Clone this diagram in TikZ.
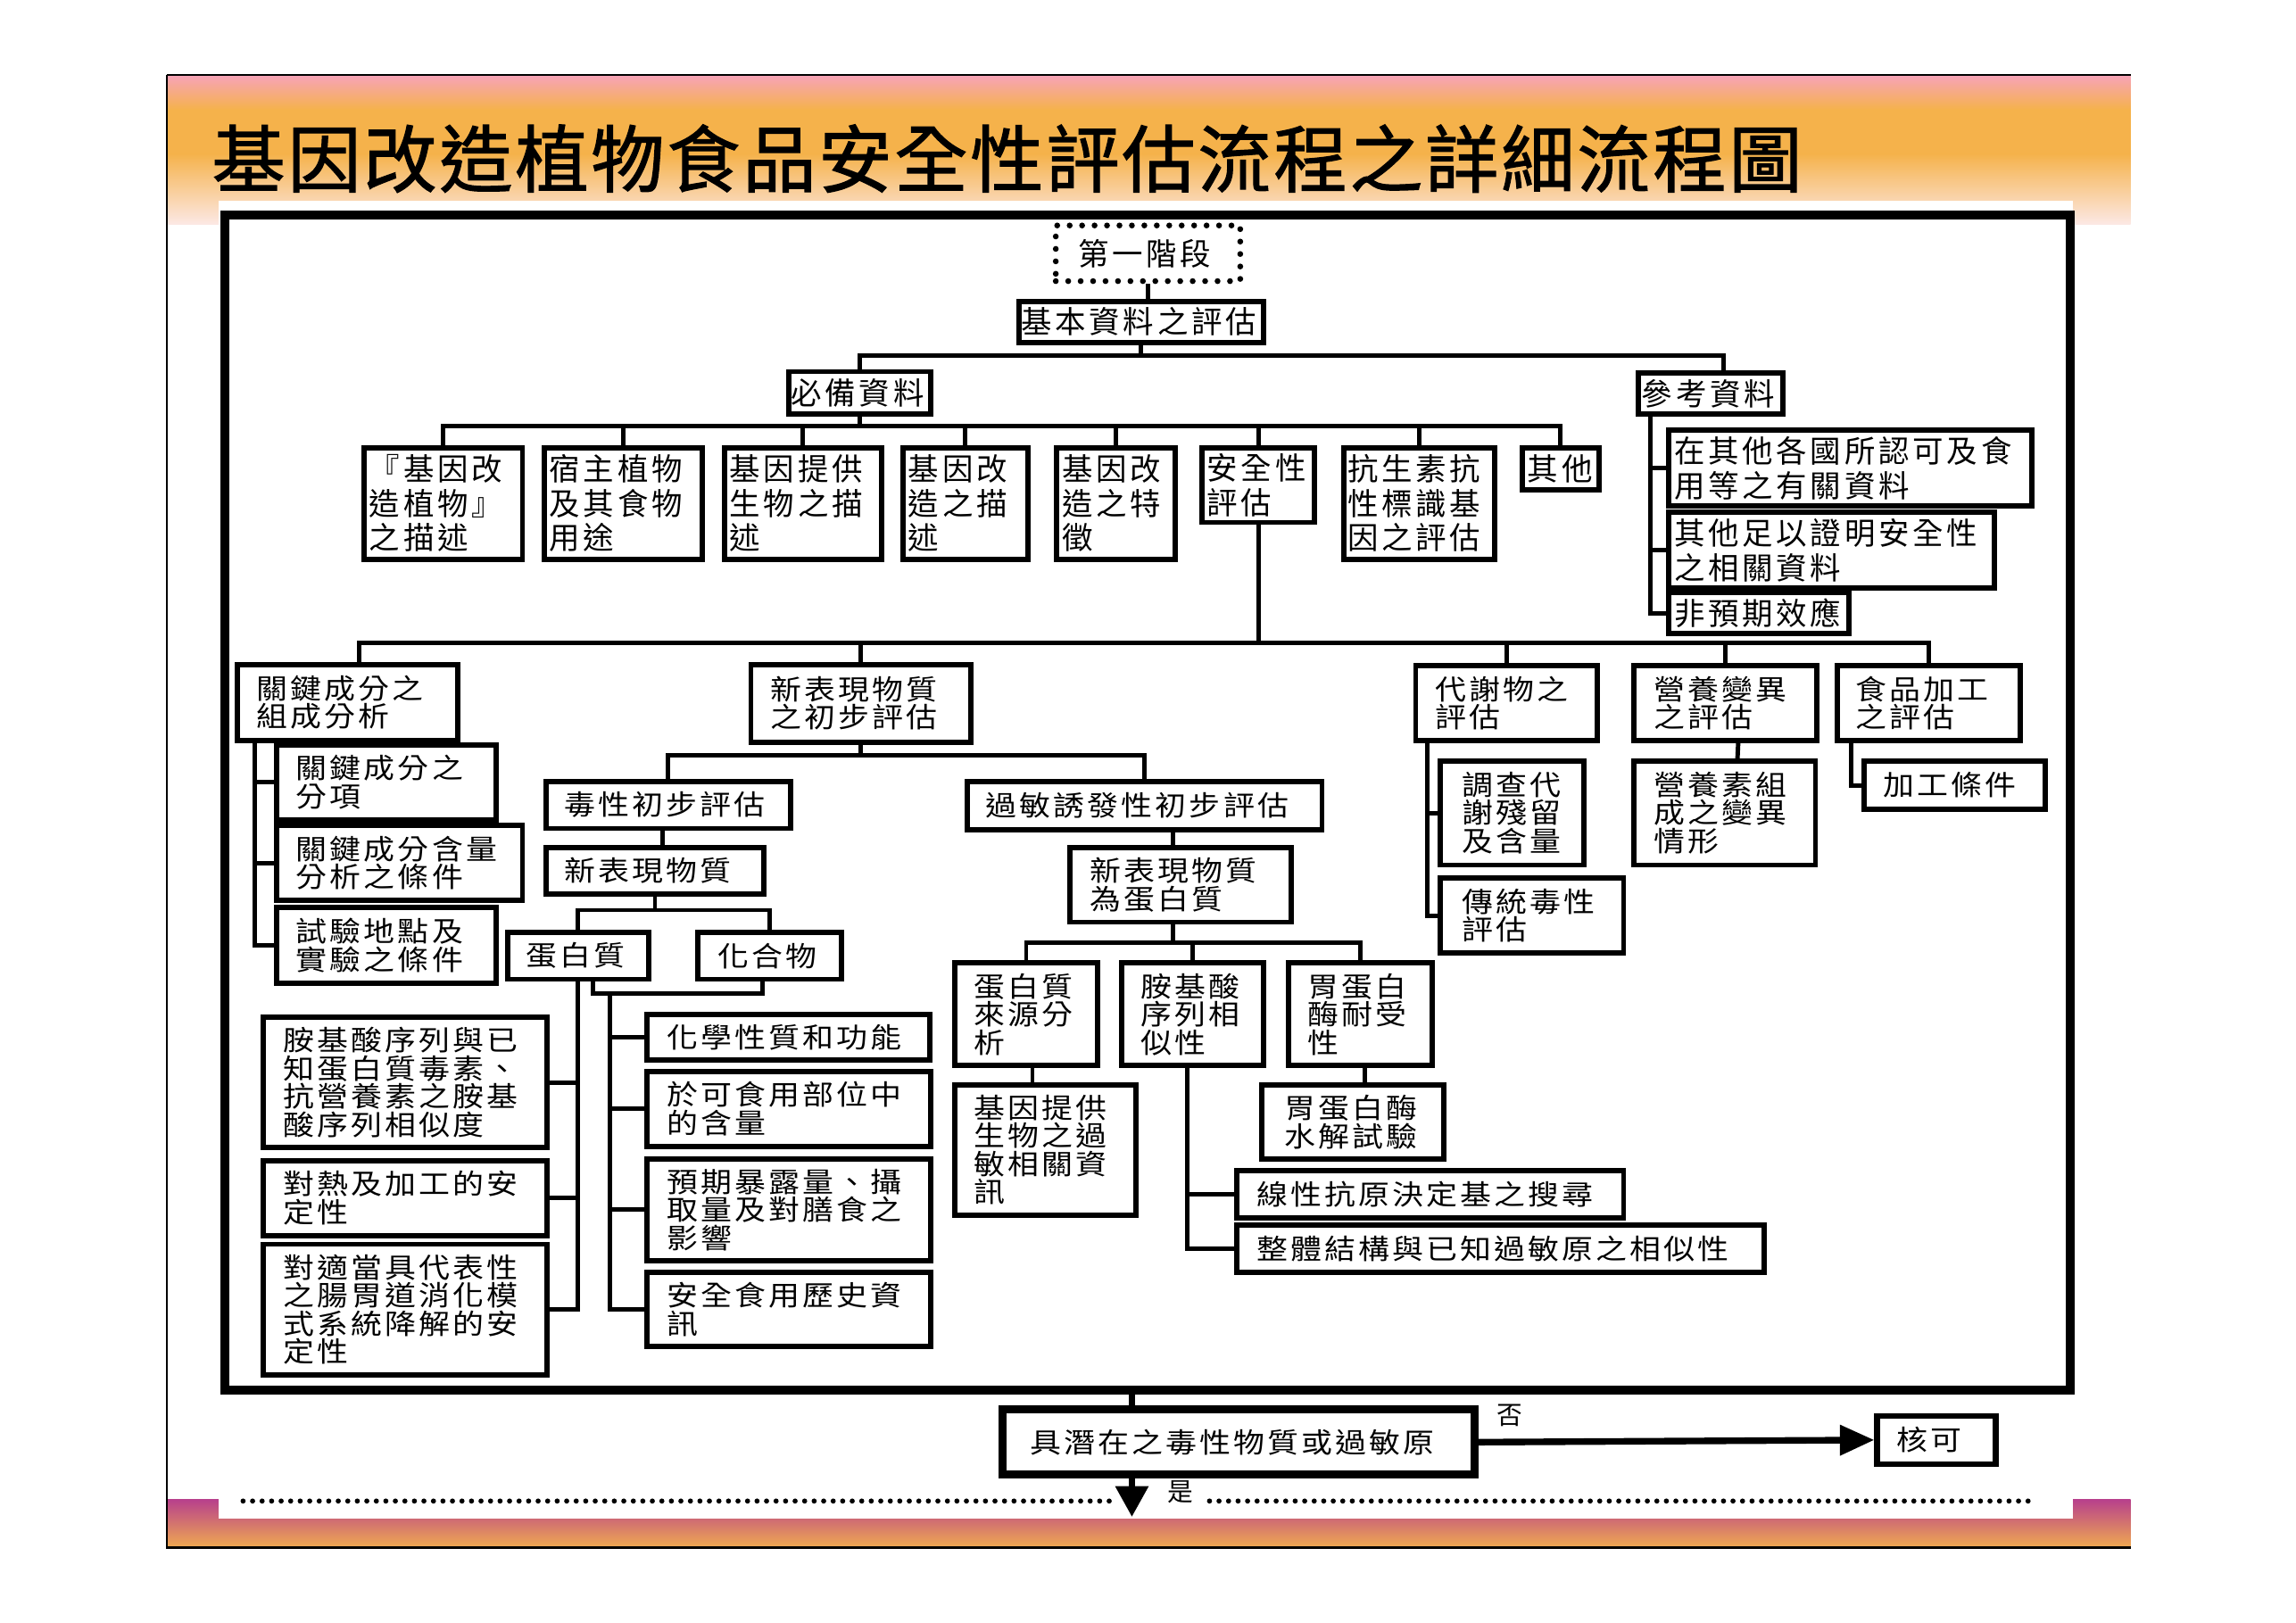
\documentclass[tikz,border=0pt]{standalone}
\usepackage{fontspec}
\usetikzlibrary{arrows.meta}
\newfontfamily\cjkU[LetterSpace=11]{Noto Sans CJK TC}
\newfontfamily\cjkL[LetterSpace=10,FakeStretch=1.12]{Noto Sans CJK TC}
\newfontfamily\cjkT[LetterSpace=3.6,FakeBold=1.5]{Noto Sans CJK TC}
\newlength\pu \setlength\pu{0.8pt}
\newcommand\fU{\cjkU\fontsize{16.8pt}{18.8pt}\selectfont}
\newcommand\fL{\cjkL\fontsize{15.2pt}{15.4pt}\selectfont}
\newcommand\fS{\cjkU\fontsize{14pt}{14.4pt}\selectfont}
\newcommand\bx[8]{%
  \node[#1, minimum width={(#5-#3)*\pu}, minimum height={(#6-#4)*\pu}, anchor=north west] (#2) at (#3,#4) {};
  \node[#1txt, anchor=west] (#2-t) at ([xshift={#7*\pu}]#2.west) {#8};
}
\definecolor{hpink}{RGB}{247,163,185}
\definecolor{horange}{RGB}{245,178,75}
\definecolor{hlight}{RGB}{252,232,228}
\definecolor{bpurple}{RGB}{183,64,140}
\definecolor{borange}{RGB}{240,170,80}
\begin{document}
\begin{tikzpicture}[x=0.8pt,y=-0.8pt,
  ub/.style={draw=black, line width=2.9pt, fill=white, inner sep=0pt},
  ubtxt/.style={inner sep=0pt, align=left, font=\fU},
  lb/.style={draw=black, line width=2.9pt, fill=white, inner sep=0pt},
  lbtxt/.style={inner sep=0pt, align=left, font=\fL},
  db/.style={draw=black, line width=3.2pt, dash pattern=on 0pt off 6.8pt, line cap=round, fill=white, inner sep=0pt},
  dbtxt/.style={inner sep=0pt, align=left, font=\fU},
  kb/.style={draw=black, line width=4.4pt, fill=white, inner sep=0pt},
  kbtxt/.style={inner sep=0pt, align=left, font=\fL},
  ob/.style={draw=black, line width=3.2pt, fill=white, inner sep=0pt},
  obtxt/.style={inner sep=0pt, align=left, font=\fL},
  conn/.style={line width=2.4pt},
  arr/.style={line width=3.6pt, -{Triangle[length=18.8pt,width=16pt]}},
  arrd/.style={line width=3.6pt, -{Triangle[length=16.8pt,width=17.4pt]}},
  dotline/.style={line width=2.8pt, dash pattern=on 0pt off 5.2pt, line cap=round},
  lab/.style={inner sep=0pt, font=\fS}]
% page and background
\fill[white] (0,0) rectangle (1568,1108.5);
\useasboundingbox (0,0) rectangle (1568,1108.5);
\shade[top color=hpink, bottom color=horange] (114,51.2) rectangle (1455,75);
\fill[horange] (114,74.8) rectangle (1455,105.2);
\shade[top color=horange, bottom color=hlight] (114,105) rectangle (1455,153);
\shade[top color=bpurple, bottom color=borange] (114,1024) rectangle (1455,1057);
\fill[white] (149,137) rectangle (1415.5,1037);
\draw[line width=1pt] (114,51.2) -- (1455,51.2);
\draw[line width=1pt] (114,51.2) -- (114,1057) -- (1455,1057);
% title
\node[anchor=west, inner sep=0pt, font=\cjkT\fontsize{40pt}{40pt}\selectfont] (title) at (144.5,108.3) {基因改造植物食品安全性評估流程之詳細流程圖};
% frame
\node[draw=black, line width=4.8pt, inner sep=0pt, minimum width={1260.2*\pu}, minimum height={802.7*\pu}, anchor=north west] (frame) at (150.5,143.7) {};
% ---------- boxes: upper part
\bx{db}{n1}{719}{152}{845}{190}{17}{第一階段}
\bx{ub}{n2}{694}{204}{861}{232}{3}{基本資料之評估}
\bx{ub}{n3}{537}{252}{634}{281}{3}{必備資料}
\bx{ub}{n4}{1117}{253}{1216}{281}{4}{參考資料}
\bx{ub}{a}{247}{304}{355}{380}{5}{『基因改\\造植物』\\之描述}
\bx{ub}{b}{370}{304}{478}{380}{5}{宿主植物\\及其食物\\用途}
\bx{ub}{c}{493}{304}{600}{380}{5}{基因提供\\生物之描\\述}
\bx{ub}{d}{615}{304}{700}{380}{5}{基因改\\造之描\\述}
\bx{ub}{e}{720}{304}{801}{380}{5}{基因改\\造之特\\徵}
\bx{ub}{f}{819}{304}{896}{355}{5}{安全性\\評估}
\bx{ub}{g}{916}{304}{1019}{380}{4}{抗生素抗\\性標識基\\因之評估}
\bx{ub}{h}{1038}{304}{1090}{333}{5}{其他}
\bx{ub}{R1}{1138}{292}{1386}{344}{5}{在其他各國所認可及食\\用等之有關資料}
\bx{ub}{R2}{1138}{348}{1360}{400}{5}{其他足以證明安全性\\之相關資料}
\bx{ub}{R3}{1138}{403}{1261}{431}{5}{非預期效應}
% ---------- second level
\bx{lb}{K}{160}{452}{311}{504}{15}{關鍵成分之\\組成分析}
\bx{lb}{N}{511}{452}{661}{505}{15}{新表現物質\\之初步評估}
\bx{lb}{M}{965}{453}{1089}{504}{15}{代謝物之\\評估}
\bx{lb}{V}{1114}{453}{1239}{504}{15}{營養變異\\之評估}
\bx{lb}{P}{1253}{453}{1378}{504}{14}{食品加工\\之評估}
\bx{lb}{K1}{187}{507}{337}{558}{15}{關鍵成分之\\分項}
\bx{lb}{K2}{187}{562}{355}{613}{15}{關鍵成分含量\\分析之條件}
\bx{lb}{K3}{187}{618}{337}{670}{15}{試驗地點及\\實驗之條件}
\bx{lb}{T}{371}{532}{538}{564}{14}{毒性初步評估}
\bx{lb}{A}{659}{532}{901}{565}{14}{過敏誘發性初步評估}
\bx{lb}{T2}{371}{577}{520}{609}{14}{新表現物質}
\bx{lb}{A2}{729}{577}{880}{628}{15}{新表現物質\\為蛋白質}
\bx{lb}{PR}{345}{635}{441}{667}{14}{蛋白質}
\bx{lb}{CH}{475}{635}{573}{667}{15}{化合物}
\bx{lb}{L1}{178}{693}{372}{782}{15}{胺基酸序列與已\\知蛋白質毒素、\\抗營養素之胺基\\酸序列相似度}
\bx{lb}{L2}{178}{791}{372}{842}{15}{對熱及加工的安\\定性}
\bx{lb}{L3}{178}{848}{372}{937}{15}{對適當具代表性\\之腸胃道消化模\\式系統降解的安\\定性}
\bx{lb}{Q1}{440}{691}{633}{722}{15}{化學性質和功能}
\bx{lb}{Q2}{440}{730}{634}{781}{15}{於可食用部位中\\的含量}
\bx{lb}{Q3}{440}{790}{634}{859}{15}{預期暴露量、攝\\取量及對膳食之\\影響}
\bx{lb}{Q4}{440}{867}{634}{918}{15}{安全食用歷史資\\訊}
\bx{lb}{S1}{650}{656}{748}{726}{15}{蛋白質\\來源分\\析}
\bx{lb}{S2}{764}{656}{861}{726}{15}{胺基酸\\序列相\\似性}
\bx{lb}{S3}{878}{656}{976}{726}{15}{胃蛋白\\酶耐受\\性}
\bx{lb}{S1a}{650}{739}{774}{828}{15}{基因提供\\生物之過\\敏相關資\\訊}
\bx{lb}{S3a}{860}{739}{984}{790}{17}{胃蛋白酶\\水解試驗}
\bx{lb}{S2a}{843}{798}{1107}{830}{15}{線性抗原決定基之搜尋}
\bx{lb}{S2b}{843}{835}{1203}{867}{15}{整體結構與已知過敏原之相似性}
\bx{lb}{M1}{982}{518}{1080}{589}{16}{調查代\\謝殘留\\及含量}
\bx{lb}{M2}{982}{598}{1107}{649}{16}{傳統毒性\\評估}
\bx{lb}{V1}{1114}{518}{1238}{589}{15}{營養素組\\成之變異\\情形}
\bx{lb}{P1}{1271}{518}{1395}{551}{15}{加工條件}
% ---------- decision
\bx{kb}{D}{682}{960}{1004}{1004.5}{21}{具潛在之毒性物質或過敏原}
\bx{ob}{OK}{1280}{965}{1361}{998}{15}{核可}
% ---------- coordinates
\coordinate (b1) at (0,243);
\coordinate (b2) at (0,291);
\coordinate (b3) at (0,439);
\coordinate (b4) at (0,516);
\coordinate (b5) at (0,621.6);
\coordinate (b6) at (0,678.4);
\coordinate (b7) at (0,644);
\coordinate (rv) at ([xshift=8pt]n4.south west);
\coordinate (kv) at ([xshift=11.4pt]K.south west);
\coordinate (mv) at ([xshift=8pt]M.south west);
\coordinate (pv) at ([xshift=8.8pt]P.south west);
\coordinate (qv) at (416.6,678.4);
\coordinate (dc) at (773,0);
\coordinate (yes) at (773,1036);
\coordinate (dl1) at (166,1025.2);
\coordinate (dl2) at (763,1025.2);
\coordinate (dl3) at (826,1025.2);
\coordinate (dl4) at (1385,1025.2);
% ---------- connectors
\draw[conn] (n1.south) -- (n1.south |- n2.north);
\draw[conn] (n2.south) -- (n2.south |- b1);
\draw[conn] (n3.north) |- ([xshift=7pt]n4.north |- b1) -- ([xshift=7pt]n4.north);
\draw[conn] (n3.south) -- (n3.south |- b2);
\draw[conn] (a.north) |- (h.north |- b2) -- (h.north);
\foreach \q in {b,c,d,e,f,g} \draw[conn] (\q.north) -- (\q.north |- b2);
\draw[conn] (rv) |- (R3.west);
\draw[conn] (rv |- R1.west) -- (R1.west);
\draw[conn] (rv |- R2.west) -- (R2.west);
\draw[conn] (f.south) -- (f.south |- b3);
\draw[conn] ([xshift=6.6pt]K.north) |- (P.north |- b3) -- (P.north);
\foreach \q in {N,M,V} \draw[conn] (\q.north) -- (\q.north |- b3);
\draw[conn] (kv) |- (K3.west);
\draw[conn] (kv |- K1.west) -- (K1.west);
\draw[conn] (kv |- K2.west) -- (K2.west);
\draw[conn] (N.south) -- (N.south |- b4);
\draw[conn] (T.north) |- (A.north |- b4) -- (A.north);
\draw[conn] ([xshift=4pt]T2.north |- T.south) -- ([xshift=4pt]T2.north);
\draw[conn] (T2.south) -- (T2.south |- b5);
\draw[conn] (PR.north) |- (CH.north |- b5) -- (CH.north);
\draw[conn] (PR.south) |- (L3.east);
\draw[conn] (PR.south |- L1.east) -- (L1.east);
\draw[conn] (PR.south |- L2.east) -- (L2.east);
\draw[conn] ([xshift=8.3pt]PR.south) |- ([xshift=-4pt]CH.south |- b6) -- ([xshift=-4pt]CH.south);
\draw[conn] (qv) |- (Q4.west);
\draw[conn] (qv |- Q1.west) -- (Q1.west);
\draw[conn] (qv |- Q2.west) -- (Q2.west);
\draw[conn] (qv |- Q3.west) -- (Q3.west);
\draw[conn] ([xshift=-4pt]A2.north |- A.south) -- ([xshift=-4pt]A2.north);
\draw[conn] ([xshift=-4pt]A2.south) -- ([xshift=-4pt]A2.south |- b7);
\draw[conn] (S1.north) |- (S3.north |- b7) -- (S3.north);
\draw[conn] (S2.north) -- (S2.north |- b7);
\draw[conn] ([xshift=3.4pt]S1.south) -- ([xshift=3.4pt]S1.south |- S1a.north);
\draw[conn] ([xshift=2.6pt]S3.south) -- ([xshift=2.6pt]S3.south |- S3a.north);
\draw[conn] ([xshift=-2.8pt]S2.south) |- (S2b.west);
\draw[conn] ([xshift=-2.8pt]S2.south |- S2a.west) -- (S2a.west);
\draw[conn] (mv) |- (M2.west);
\draw[conn] (mv |- M1.west) -- (M1.west);
\draw[conn] ([xshift=7pt]V.south) -- ([xshift=7pt]V1.north);
\draw[conn] (pv) |- (P1.west);
% ---------- decision part
\draw[line width=3.6pt] (frame.south -| dc) -- (D.north -| dc);
\draw[arr] (D.east) -- (OK.west);
\draw[arrd] (D.south -| dc) -- (yes);
\node[lab] (no-l) at (1031,967) {否};
\node[lab] (yes-l) at (806,1019) {是};
\draw[dotline] (dl1) -- (dl2);
\draw[dotline] (dl3) -- (dl4);
\end{tikzpicture}
\end{document}
